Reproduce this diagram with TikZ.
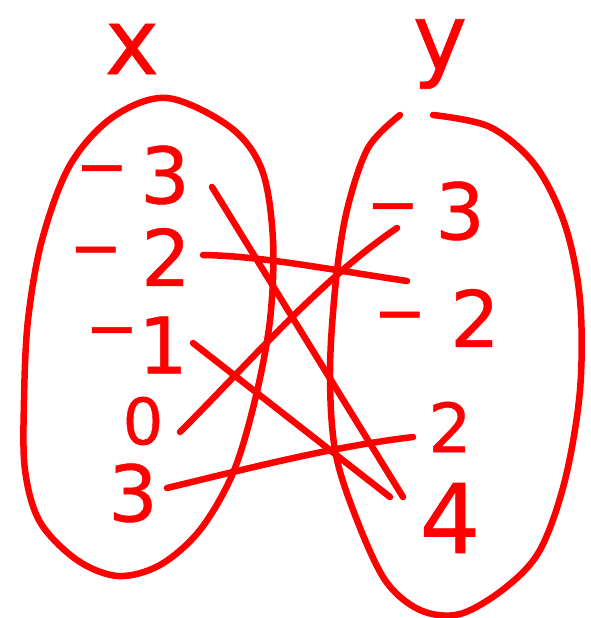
\documentclass[tikz,border=0pt]{standalone}
\usepackage{fontspec}
\setmainfont[UprightFeatures={FakeBold=0.6}]{DejaVu Sans}
\definecolor{pen}{RGB}{255,0,0}
\newcommand\mns[2]{\llap{\raisebox{#1pt}{\scalebox{1.25}[1]{–}}\hspace{#2pt}}}
\begin{document}
\begin{tikzpicture}[x=1pt,y=-1pt,
  pen/.style={draw=pen, line width=6.5pt, line cap=round, line join=round},
  digit/.style={text=pen, inner sep=0pt, font=\fontsize{78}{80}\selectfont},
  setname/.style={text=pen, inner sep=0pt, font=\fontsize{92}{96}\selectfont}]
\useasboundingbox (0,0) rectangle (591,618);
% set names
\node[setname] (X) at (132,49) {x};
\node[setname] (Y) at (440,54) {y};
% left set
\node[digit] (a1) at (165,175) {\mns{14}{14}3};
\node[digit] (a2) at (166,257) {\mns{15}{21}2};
\node[digit] (a3) at (163,345) {\mns{22}{2}1};
\node[digit, font=\fontsize{64}{66}\selectfont] (a4) at (143,421) {0};
\node[digit] (a5) at (133,493) {3};
% right set
\node[digit] (b1) at (460,211) {\mns{12}{18}3};
\node[digit] (b2) at (475,318) {\mns{11}{26}2};
\node[digit, font=\fontsize{68}{70}\selectfont] (b3) at (450,427) {2};
\node[digit, font=\fontsize{96}{100}\selectfont] (b4) at (450,518) {4};
% ovals
\draw[pen] plot[smooth cycle, tension=0.55] coordinates {
  (167,98) (230,127) (262,170) (273,240) (270,320) (255,400) (233,473)
  (200,530) (160,565) (118,576) (77,560) (40,522) (25,470) (24,400)
  (28,320) (42,240) (70,165) (113,117)};
\draw[pen] plot[smooth, tension=0.55] coordinates {
  (400,115) (368,148) (347,210) (336,280) (330,370) (335,450) (355,515)
  (385,580) (420,610) (460,614) (505,588) (540,550) (565,480) (580,390)
  (580,300) (565,225) (535,165) (490,127) (433,115)};
% connector ends
\coordinate (s1) at (212,187); \coordinate (e1) at (403,497);
\coordinate (s2) at (203,255); \coordinate (e2) at (407,281);
\coordinate (s3) at (193,343); \coordinate (e3) at (390,497);
\coordinate (s4) at (180,432); \coordinate (e4) at (397,228);
\coordinate (s5) at (167,488); \coordinate (e5) at (413,437);
% connectors
\draw[pen] (s1) -- (e1);
\draw[pen] (s2) .. controls (260,256) and (320,268) .. (e2);
\draw[pen] (s3) -- (e3);
\draw[pen] (s4) .. controls (250,362) and (320,280) .. (e4);
\draw[pen] (s5) .. controls (250,468) and (330,447) .. (e5);
\end{tikzpicture}
\end{document}
